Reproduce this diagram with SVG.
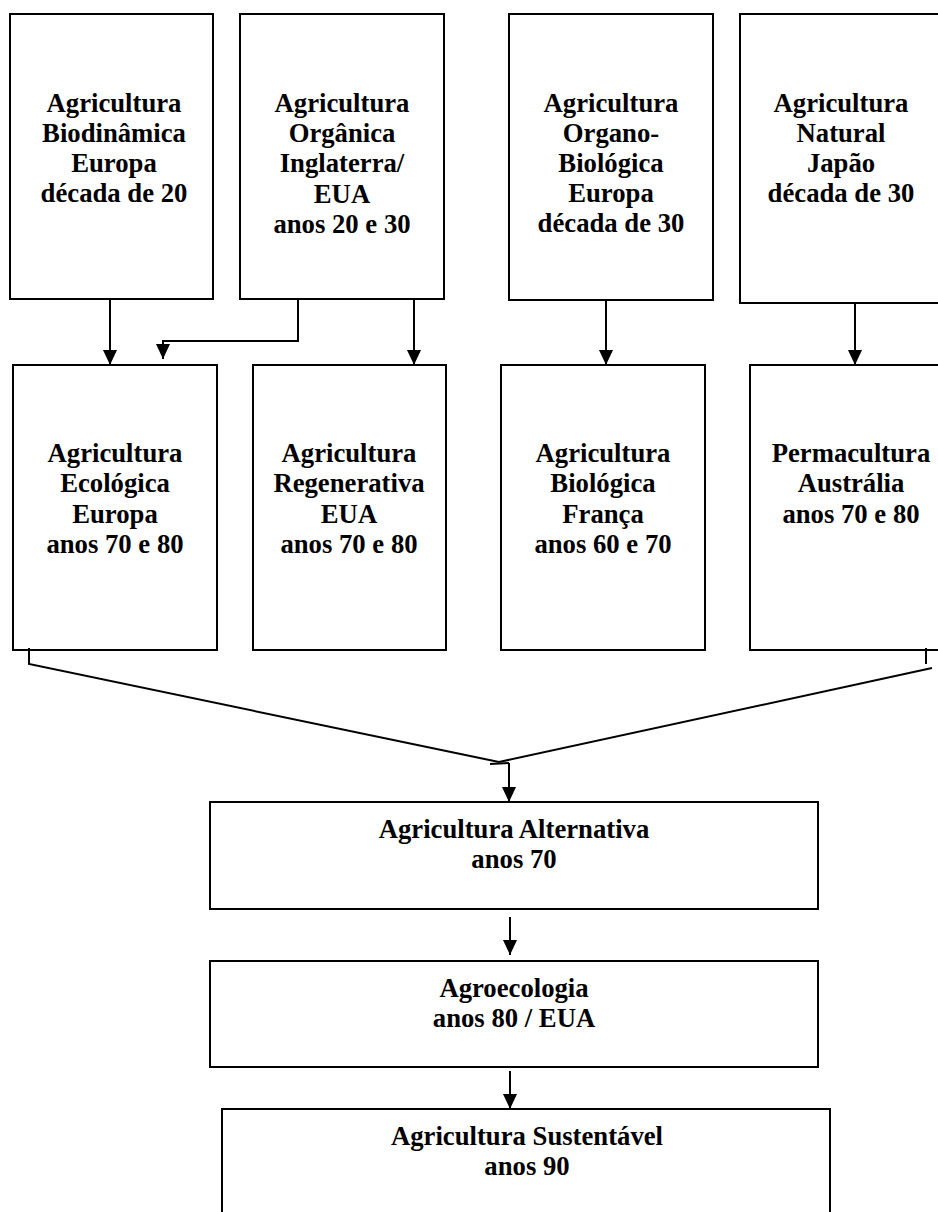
<svg xmlns="http://www.w3.org/2000/svg" width="938" height="1212" viewBox="0 0 938 1212">
<style>
.box{fill:#fff;stroke:#000;stroke-width:2}
.t{font-family:"Liberation Serif","Times New Roman",serif;font-weight:bold;font-size:26.7px;fill:#000;text-anchor:middle}
.c{fill:none;stroke:#000;stroke-width:2}
</style>
<defs>
<marker id="arr" markerUnits="userSpaceOnUse" markerWidth="15" markerHeight="14" refX="15" refY="7" orient="auto">
<path d="M0,0 L15,7 L0,14 z" fill="#000"/>
</marker>
</defs>
<rect width="938" height="1212" fill="#fff"/>
<g id="n1"><rect class="box" x="10" y="14" width="203" height="285"/>
<text class="t" x="114" y="112">Agricultura</text><text class="t" x="114" y="142">Biodinâmica</text><text class="t" x="114" y="172">Europa</text><text class="t" x="114" y="202">década de 20</text></g>
<g id="n2"><rect class="box" x="240" y="14" width="204" height="285"/>
<text class="t" x="342" y="112">Agricultura</text><text class="t" x="342" y="142">Orgânica</text><text class="t" x="342" y="172">Inglaterra/</text><text class="t" x="342" y="203">EUA</text><text class="t" x="342" y="233">anos 20 e 30</text></g>
<g id="n3"><rect class="box" x="509" y="14" width="204" height="286"/>
<text class="t" x="611" y="112">Agricultura</text><text class="t" x="611" y="142">Organo-</text><text class="t" x="611" y="172">Biológica</text><text class="t" x="611" y="202">Europa</text><text class="t" x="611" y="232">década de 30</text></g>
<g id="n4"><rect class="box" x="740" y="14" width="202" height="289"/>
<text class="t" x="841" y="112">Agricultura</text><text class="t" x="841" y="142">Natural</text><text class="t" x="841" y="172">Japão</text><text class="t" x="841" y="202">década de 30</text></g>
<g id="n5"><rect class="box" x="13" y="365" width="204" height="285"/>
<text class="t" x="115" y="462">Agricultura</text><text class="t" x="115" y="492">Ecológica</text><text class="t" x="115" y="523">Europa</text><text class="t" x="115" y="553">anos 70 e 80</text></g>
<g id="n6"><rect class="box" x="253" y="365" width="193" height="285"/>
<text class="t" x="349" y="462">Agricultura</text><text class="t" x="349" y="492">Regenerativa</text><text class="t" x="349" y="523">EUA</text><text class="t" x="349" y="553">anos 70 e 80</text></g>
<g id="n7"><rect class="box" x="501" y="365" width="204" height="285"/>
<text class="t" x="603" y="462">Agricultura</text><text class="t" x="603" y="492">Biológica</text><text class="t" x="603" y="523">França</text><text class="t" x="603" y="553">anos 60 e 70</text></g>
<g id="n8"><rect class="box" x="750" y="365" width="202" height="285"/>
<text class="t" x="851" y="462">Permacultura</text><text class="t" x="851" y="492">Austrália</text><text class="t" x="851" y="523">anos 70 e 80</text></g>
<g id="n9"><rect class="box" x="210" y="802" width="608" height="107"/>
<text class="t" x="514" y="838">Agricultura Alternativa</text><text class="t" x="514" y="868">anos 70</text></g>
<g id="n10"><rect class="box" x="210" y="961" width="608" height="106"/>
<text class="t" x="514" y="997">Agroecologia</text><text class="t" x="514" y="1027">anos 80 / EUA</text></g>
<g id="n11"><rect class="box" x="222" y="1109" width="608" height="120"/>
<text class="t" x="527" y="1145">Agricultura Sustentável</text><text class="t" x="527" y="1175">anos 90</text></g>
<g id="connectors">
<path class="c" d="M110,300 V365" marker-end="url(#arr)"/>
<path class="c" d="M298,300 V341 H163 V359" marker-end="url(#arr)"/>
<path class="c" d="M414,300 V365" marker-end="url(#arr)"/>
<path class="c" d="M606,301 V365" marker-end="url(#arr)"/>
<path class="c" d="M855,304 V365" marker-end="url(#arr)"/>
<path class="c" d="M29,648 V664 L499,762"/>
<path class="c" d="M926,648 V664"/>
<path class="c" d="M932,668 L499,762"/>
<path class="c" d="M490,764 L509,763"/>
<path class="c" d="M509,763 V802" marker-end="url(#arr)"/>
<path class="c" d="M510,917 V955" marker-end="url(#arr)"/>
<path class="c" d="M510,1071 V1109" marker-end="url(#arr)"/>
</g>
</svg>
